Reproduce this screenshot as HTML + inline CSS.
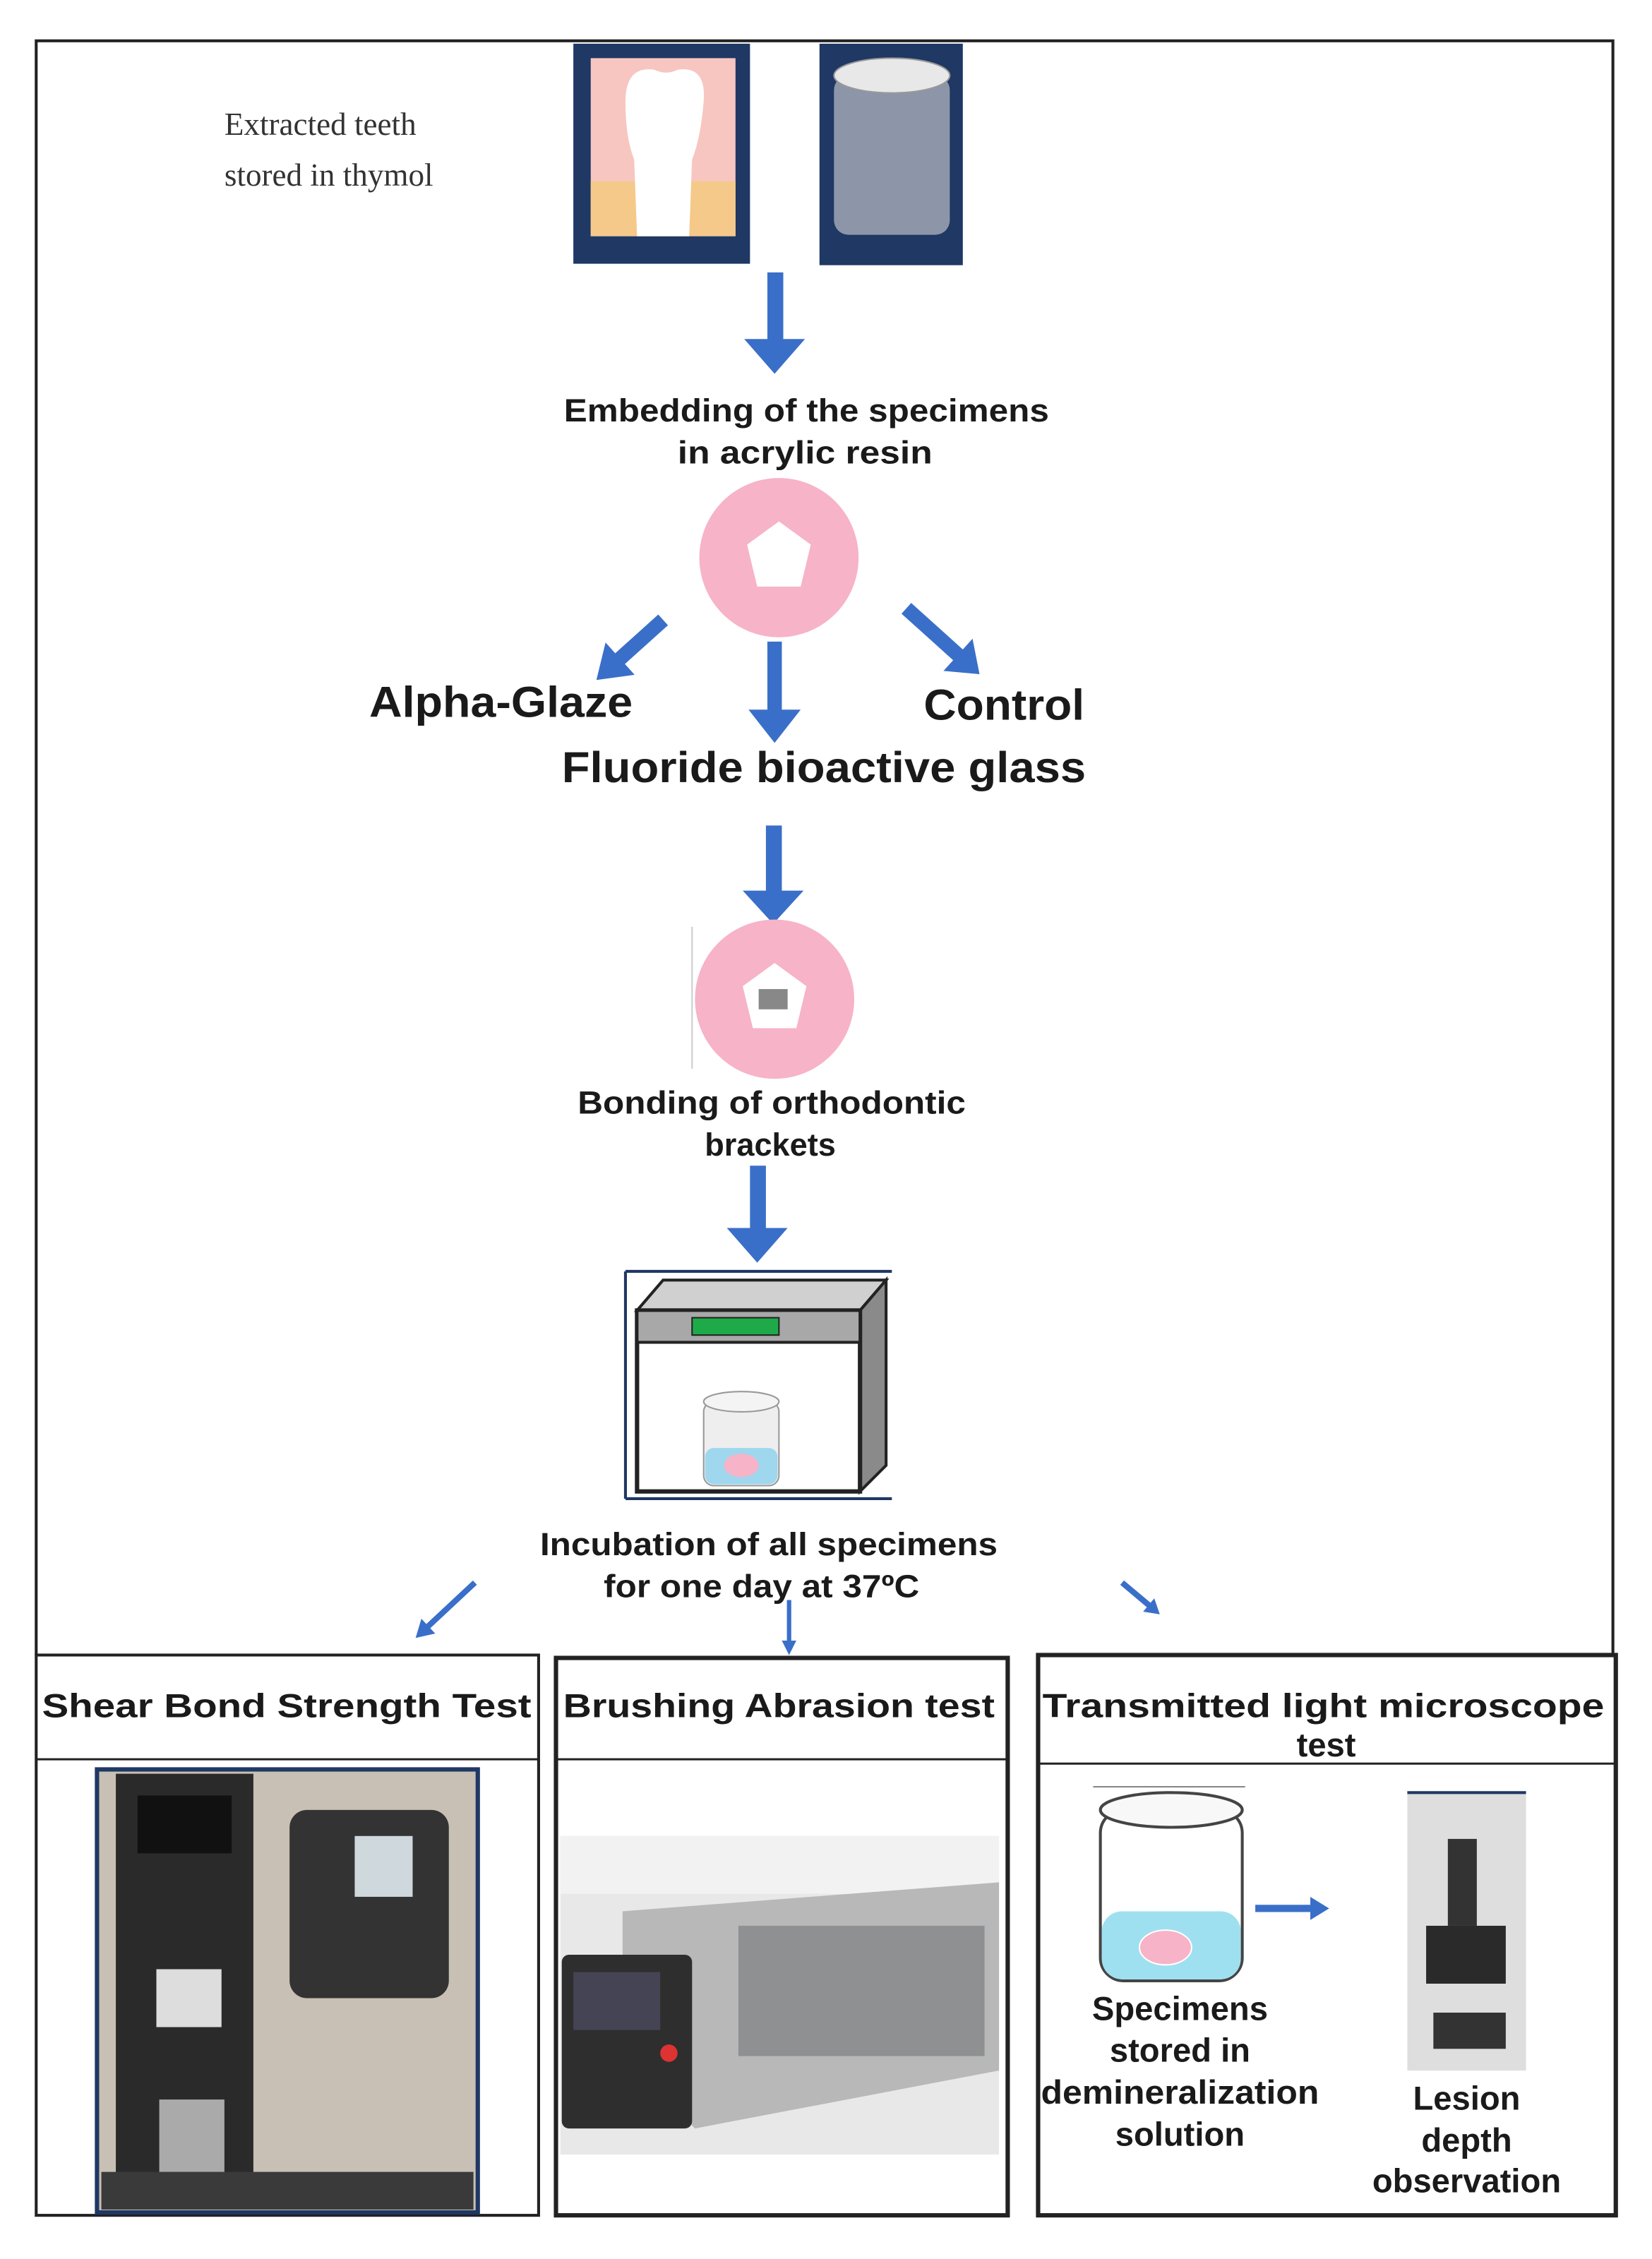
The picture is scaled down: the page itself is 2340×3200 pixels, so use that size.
<!DOCTYPE html>
<html><head><meta charset="utf-8"><style>
html,body{margin:0;padding:0;background:#fff;}
svg{display:block;}
text{font-family:"Liberation Sans",sans-serif;font-weight:bold;fill:#1a1a1a;}
.s{font-family:"Liberation Serif",serif;font-weight:normal;fill:#333;}
</style></head><body>
<svg width="2340" height="3200" viewBox="0 0 1141 1560" xmlns="http://www.w3.org/2000/svg">
<!-- outer frame -->
<path d="M25,1143 L25,28 L1114,28 L1114,1143" fill="none" stroke="#222" stroke-width="2"/>
<text class="s" x="155" y="93" font-size="22">Extracted teeth</text>
<text class="s" x="155" y="128" font-size="22">stored in thymol</text>
<!-- tooth -->
<rect x="396" y="30" width="122" height="152" fill="#1f3864"/>
<rect x="408" y="40" width="100" height="123" fill="#f7c6c0"/>
<rect x="408" y="125" width="100" height="38" fill="#f5c98a"/>
<path d="M432,70 Q432,45 452,48 Q460,52 468,48 Q488,45 486,70 Q484,95 478,110 L476,163 L440,163 L438,110 Q432,95 432,70 z" fill="#fff"/>
<!-- jar -->
<rect x="566" y="30" width="99" height="153" fill="#1f3864"/>
<rect x="576" y="52" width="80" height="110" rx="10" fill="#8c96a8"/>
<ellipse cx="616" cy="52" rx="40" ry="12" fill="#e8e8e8" stroke="#999"/>
<g fill="#3a6fc9">
<!-- down arrow 1 -->
<polygon points="530,188 541,188 541,234 556,234 535,258 514,234 530,234"/>
<!-- down arrow mid -->
<polygon points="530,443 540,443 540,490 553,490 535,513 517,490 530,490"/>
<!-- down arrow 3 -->
<polygon points="529,570 540,570 540,615 555,615 534,638 513,615 529,615"/>
<!-- down arrow 4 -->
<polygon points="518,805 529,805 529,848 544,848 523,872 502,848 518,848"/>
</g>
<!-- diagonal arrows -->
<g fill="#3a6fc9">
<g transform="translate(458,428) rotate(138)"><polygon points="0,-5 40,-5 40,-15 62,0 40,15 40,5 0,5"/></g>
<g transform="translate(626,420) rotate(42)"><polygon points="0,-5 48,-5 48,-15 68,0 48,15 48,5 0,5"/></g>
</g>
<text x="557" y="291" font-size="22" text-anchor="middle" textLength="335" lengthAdjust="spacingAndGlyphs">Embedding of the specimens</text>
<text x="556" y="320" font-size="22" text-anchor="middle" textLength="176" lengthAdjust="spacingAndGlyphs">in  acrylic resin</text>
<circle cx="538" cy="385" r="55" fill="#f7b3c8"/>
<polygon points="538,360 560,376 553,405 523,405 516,376" fill="#fff"/>
<text x="255" y="495" font-size="30" textLength="182" lengthAdjust="spacingAndGlyphs">Alpha-Glaze</text>
<text x="638" y="497" font-size="30" textLength="111" lengthAdjust="spacingAndGlyphs">Control</text>
<text x="388" y="540" font-size="30" textLength="362" lengthAdjust="spacingAndGlyphs">Fluoride bioactive glass</text>
<line x1="478" y1="640" x2="478" y2="738" stroke="#ccc" stroke-width="1"/>
<circle cx="535" cy="690" r="55" fill="#f7b3c8"/>
<polygon points="535,665 557,681 550,710 520,710 513,681" fill="#fff"/>
<rect x="524" y="683" width="20" height="14" fill="#888"/>
<text x="533" y="769" font-size="22" text-anchor="middle" textLength="268" lengthAdjust="spacingAndGlyphs">Bonding of orthodontic</text>
<text x="532" y="798" font-size="22" text-anchor="middle">brackets</text>
<!-- incubator -->
<line x1="432" y1="878" x2="616" y2="878" stroke="#1f3864" stroke-width="2"/>
<line x1="432" y1="878" x2="432" y2="1035" stroke="#1f3864" stroke-width="2"/>
<line x1="432" y1="1035" x2="616" y2="1035" stroke="#1f3864" stroke-width="2"/>
<polygon points="440,905 458,884 612,884 594,905" fill="#d0d0d0" stroke="#222" stroke-width="2"/>
<polygon points="594,905 612,884 612,1012 594,1030" fill="#8a8a8a" stroke="#222" stroke-width="2"/>
<rect x="440" y="905" width="154" height="125" fill="#fff" stroke="#222" stroke-width="3"/>
<rect x="440" y="905" width="154" height="22" fill="#a8a8a8" stroke="#222" stroke-width="2"/>
<rect x="478" y="910" width="60" height="12" fill="#1faa4a" stroke="#222"/>
<rect x="486" y="968" width="52" height="58" rx="7" fill="#eee" stroke="#999"/>
<rect x="487" y="1000" width="50" height="25" rx="6" fill="#9fd7ee"/>
<ellipse cx="512" cy="1012" rx="12" ry="8" fill="#f7b3c8"/>
<ellipse cx="512" cy="968" rx="26" ry="7" fill="#f4f4f4" stroke="#999"/>
<text x="531" y="1074" font-size="22" text-anchor="middle" textLength="316" lengthAdjust="spacingAndGlyphs">Incubation of all specimens</text>
<text x="526" y="1103" font-size="22" text-anchor="middle" textLength="218" lengthAdjust="spacingAndGlyphs">for one day at 37ºC</text>
<g fill="#3a6fc9">
<g transform="translate(328,1093) rotate(137)"><polygon points="0,-2 44,-2 44,-7 56,0 44,7 44,2 0,2"/></g>
<g transform="translate(545,1105) rotate(90)"><polygon points="0,-1.5 28,-1.5 28,-5 38,0 28,5 28,1.5 0,1.5"/></g>
<g transform="translate(775,1093) rotate(40)"><polygon points="0,-2 24,-2 24,-6 34,0 24,6 24,2 0,2"/></g>
</g>
<!-- boxes -->
<rect x="25" y="1143" width="347" height="387" fill="none" stroke="#222" stroke-width="2"/>
<line x1="25" y1="1215" x2="372" y2="1215" stroke="#222" stroke-width="1.5"/>
<rect x="384" y="1145" width="312" height="385" fill="none" stroke="#222" stroke-width="3"/>
<line x1="384" y1="1215" x2="696" y2="1215" stroke="#222" stroke-width="1.5"/>
<rect x="717" y="1143" width="399" height="387" fill="none" stroke="#222" stroke-width="3"/>
<line x1="717" y1="1218" x2="1116" y2="1218" stroke="#222" stroke-width="1.5"/>
<text x="198" y="1186" font-size="23" text-anchor="middle" textLength="338" lengthAdjust="spacingAndGlyphs">Shear Bond Strength Test</text>
<text x="538" y="1186" font-size="23" text-anchor="middle" textLength="298" lengthAdjust="spacingAndGlyphs">Brushing Abrasion test</text>
<text x="914" y="1186" font-size="23" text-anchor="middle" textLength="388" lengthAdjust="spacingAndGlyphs">Transmitted light microscope</text>
<text x="916" y="1213" font-size="23" text-anchor="middle">test</text>
<!-- photo 1 -->
<rect x="67" y="1222" width="263" height="306" fill="#c8c0b4" stroke="#1f3864" stroke-width="3"/>
<rect x="80" y="1225" width="95" height="300" fill="#2a2a2a"/>
<rect x="95" y="1240" width="65" height="40" fill="#111"/>
<rect x="108" y="1360" width="45" height="40" fill="#ddd"/>
<rect x="110" y="1450" width="45" height="60" fill="#aaa"/>
<rect x="200" y="1250" width="110" height="130" rx="12" fill="#333"/>
<rect x="245" y="1268" width="40" height="42" fill="#cfd8dc"/>
<rect x="70" y="1500" width="257" height="26" fill="#3a3a3a"/>
<!-- photo 2 -->
<rect x="387" y="1268" width="303" height="220" fill="#e8e8e8"/>
<rect x="387" y="1268" width="303" height="40" fill="#f2f2f2"/>
<polygon points="430,1320 690,1300 690,1430 480,1470 430,1420" fill="#b8b8b8"/>
<rect x="510" y="1330" width="170" height="90" fill="#8e9092"/>
<rect x="388" y="1350" width="90" height="120" rx="5" fill="#2e2e2e"/>
<rect x="396" y="1362" width="60" height="40" fill="#445"/>
<circle cx="462" cy="1418" r="6" fill="#d33"/>
<!-- box3 -->
<rect x="760" y="1250" width="98" height="118" rx="16" fill="#fff" stroke="#444" stroke-width="2"/>
<rect x="761" y="1320" width="96" height="47" rx="14" fill="#9fe0f0"/>
<ellipse cx="805" cy="1345" rx="18" ry="12" fill="#f7b3c8" stroke="#fff"/>
<ellipse cx="809" cy="1250" rx="49" ry="12" fill="#f8f8f8" stroke="#444" stroke-width="2"/>
<line x1="755" y1="1234" x2="860" y2="1234" stroke="#888"/>
<polygon points="867,1315.5 905,1315.5 905,1310 918,1318 905,1326 905,1320.5 867,1320.5" fill="#3a6fc9"/>
<rect x="972" y="1238" width="82" height="192" fill="#dedede"/>
<line x1="972" y1="1238" x2="1054" y2="1238" stroke="#1f3864" stroke-width="2"/>
<rect x="1000" y="1270" width="20" height="60" fill="#333"/>
<rect x="985" y="1330" width="55" height="40" fill="#2a2a2a"/>
<rect x="990" y="1390" width="50" height="25" fill="#333"/>
<text x="815" y="1395" font-size="23" text-anchor="middle">Specimens</text>
<text x="815" y="1424" font-size="23" text-anchor="middle">stored in</text>
<text x="815" y="1453" font-size="23" text-anchor="middle" textLength="192" lengthAdjust="spacingAndGlyphs">demineralization</text>
<text x="815" y="1482" font-size="23" text-anchor="middle">solution</text>
<text x="1013" y="1457" font-size="23" text-anchor="middle">Lesion</text>
<text x="1013" y="1486" font-size="23" text-anchor="middle">depth</text>
<text x="1013" y="1514" font-size="23" text-anchor="middle">observation</text>
</svg>
</body></html>
